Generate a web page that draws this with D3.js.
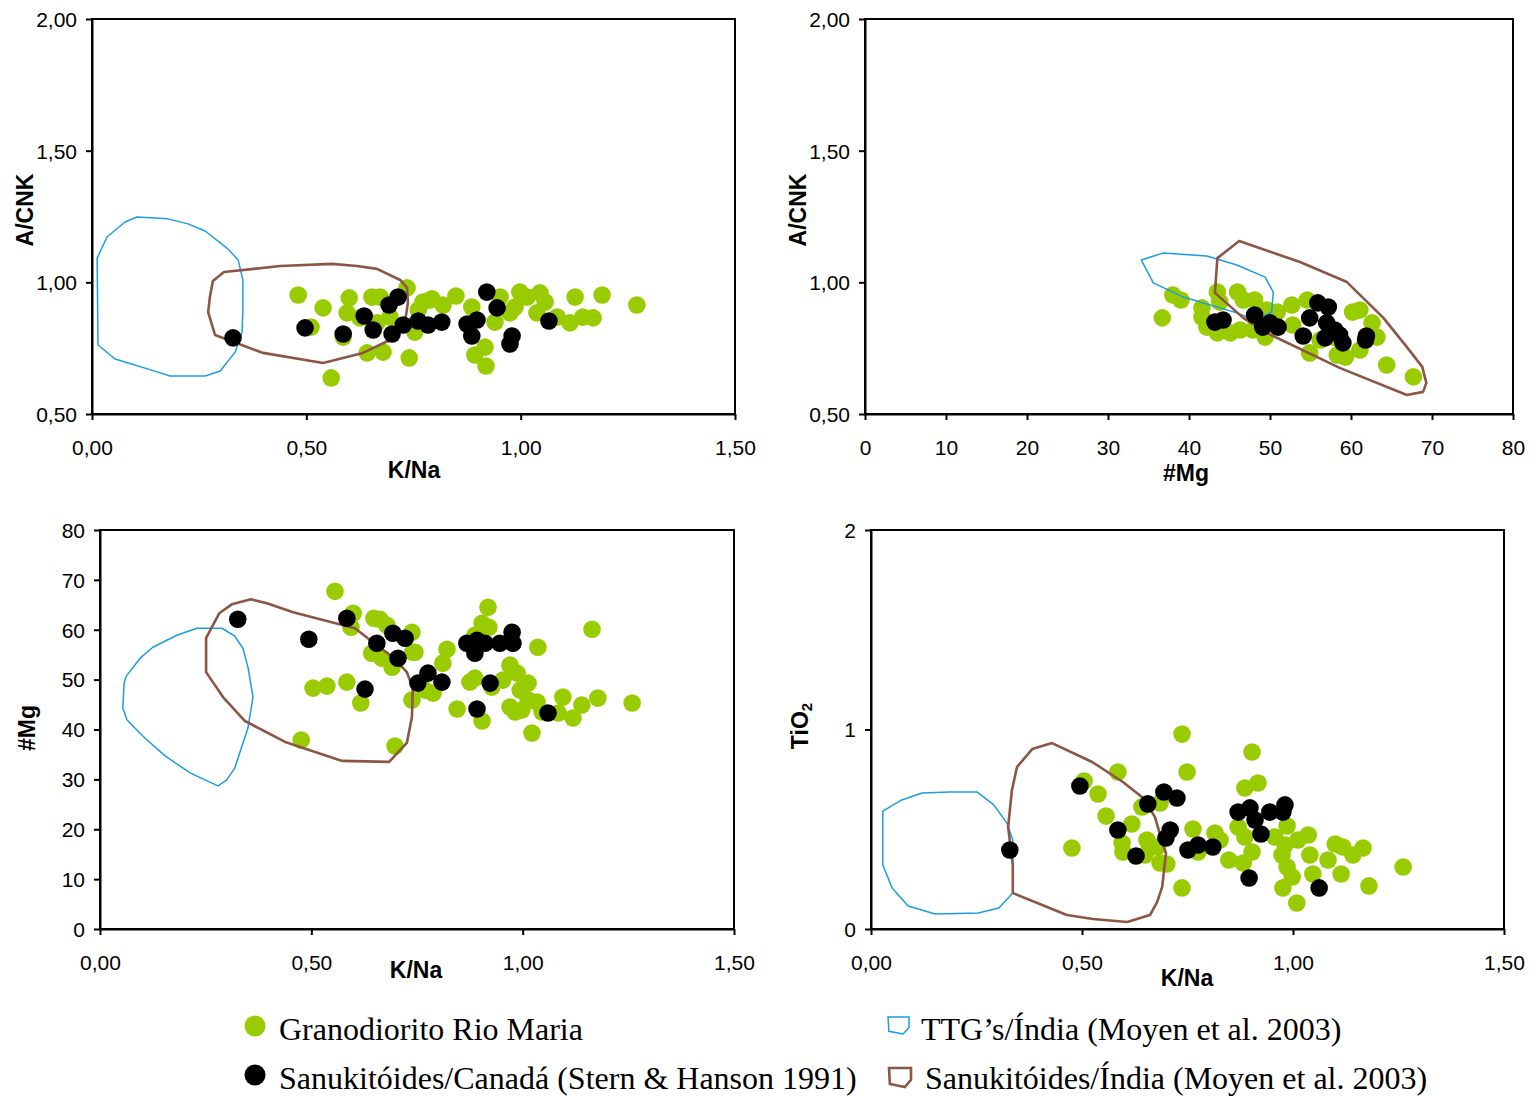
<!DOCTYPE html>
<html>
<head>
<meta charset="utf-8">
<script src="https://cdn.jsdelivr.net/npm/d3@7/dist/d3.min.js"></script>
<style>
  html, body { margin: 0; padding: 0; background: #fff; }
  svg { display: block; }
  .tick text { font-family: Arial, "Liberation Sans", sans-serif; font-size: 21px; fill: #000; }
  .axis-title { font-family: Arial, "Liberation Sans", sans-serif; font-size: 23px; font-weight: bold; fill: #000; }
  .legend-text { font-family: "Times New Roman", "Liberation Serif", serif; font-size: 32px; fill: #000; }
</style>
</head>
<body>
<svg id="chart" width="1532" height="1097"></svg>
<script>
// ---- Series: A/CNK vs K/Na ----
const acnkKnaGranodiorite = [
  [0.481,0.952],[0.539,0.903],[0.511,0.830],[0.600,0.941],[0.595,0.884],[0.586,0.792],[0.625,0.865],
  [0.653,0.944],[0.672,0.944],[0.665,0.846],[0.695,0.868],[0.735,0.979],[0.753,0.811],[0.642,0.732],
  [0.679,0.735],[0.740,0.713],[0.558,0.637],[0.772,0.925],[0.788,0.933],[0.761,0.895],[0.849,0.948],
  [0.793,0.937],[0.819,0.914],[0.886,0.906],[0.893,0.724],[0.917,0.754],[0.919,0.682],[0.940,0.849],
  [0.952,0.944],[0.975,0.884],[0.998,0.963],[1.015,0.944],[1.045,0.960],[1.057,0.925],[1.038,0.884],
  [1.085,0.868],[1.127,0.944],[1.115,0.846],[1.145,0.868],[1.169,0.865],[1.190,0.952],[1.271,0.914],
  [0.987,0.906]
];
const acnkKnaSanukitoidCanada = [
  [0.329,0.789],[0.497,0.827],[0.586,0.804],[0.635,0.872],[0.656,0.819],[0.693,0.914],[0.714,0.944],
  [0.700,0.804],[0.726,0.838],[0.761,0.853],[0.784,0.838],[0.816,0.849],[0.875,0.842],[0.886,0.796],
  [0.898,0.857],[0.921,0.963],[0.945,0.903],[0.975,0.766],[0.980,0.796],[1.066,0.853]
];
const acnkKnaTtgIndia = [
  [0.012,1.092],[0.035,1.172],[0.077,1.229],[0.105,1.248],[0.177,1.241],[0.224,1.222],[0.264,1.195],
  [0.317,1.127],[0.341,1.085],[0.352,1.009],[0.352,0.895],[0.350,0.811],[0.334,0.735],[0.299,0.663],
  [0.264,0.644],[0.182,0.644],[0.152,0.660],[0.054,0.709],[0.014,0.762]
];
const acnkKnaSanukitoidIndia = [
  [0.282,1.005],[0.308,1.039],[0.439,1.062],[0.560,1.070],[0.618,1.062],[0.665,1.051],[0.719,1.009],
  [0.735,0.979],[0.737,0.922],[0.730,0.849],[0.695,0.781],[0.632,0.732],[0.539,0.694],[0.399,0.732],
  [0.287,0.800],[0.271,0.887],[0.275,0.944]
];

// ---- Series: A/CNK vs #Mg ----
const acnkMgGranodiorite = [
  [36.7,0.865],[38.0,0.952],[39.0,0.933],[41.6,0.868],[43.5,0.963],[43.8,0.925],[46.0,0.963],
  [46.7,0.933],[48.1,0.933],[43.5,0.808],[45.1,0.808],[46.3,0.819],[49.4,0.792],[49.6,0.895],
  [50.9,0.887],[52.7,0.914],[54.6,0.933],[52.8,0.838],[54.9,0.732],[58.3,0.724],[59.3,0.716],
  [60.2,0.887],[61.1,0.895],[62.6,0.846],[63.2,0.792],[61.1,0.743],[64.4,0.686],[67.7,0.641],
  [41.6,0.903],[42.2,0.830],[47.9,0.819],[56.2,0.781],[57.8,0.792]
];
const acnkMgSanukitoidCanada = [
  [43.2,0.849],[44.2,0.857],[48.1,0.876],[49.1,0.830],[50.0,0.846],[51.0,0.830],[54.1,0.796],
  [54.9,0.865],[55.9,0.922],[57.2,0.906],[57.0,0.846],[58.0,0.819],[56.8,0.789],[59.0,0.770],
  [58.6,0.800],[61.9,0.796],[61.8,0.781]
];
const acnkMgTtgIndia = [
  [34.1,1.085],[36.8,1.111],[42.2,1.100],[45.9,1.066],[49.4,1.020],[50.4,0.963],[50.2,0.887],
  [48.1,0.857],[45.9,0.884],[39.3,0.944],[35.6,0.998]
];
const acnkMgSanukitoidIndia = [
  [43.5,1.092],[46.2,1.157],[53.7,1.077],[59.5,1.001],[64.0,0.865],[66.9,0.754],[68.8,0.679],
  [69.3,0.618],[68.9,0.584],[66.9,0.572],[58.6,0.675],[49.6,0.808],[46.7,0.865],[43.2,0.960]
];

// ---- Series: #Mg vs K/Na ----
const mgKnaGranodiorite = [
  [0.556,67.7],[0.599,63.3],[0.594,60.5],[0.648,62.3],[0.662,62.1],[0.679,60.9],[0.738,59.5],
  [0.643,55.3],[0.667,54.3],[0.691,52.5],[0.740,55.5],[0.738,45.9],[0.504,48.3],[0.537,48.7],
  [0.584,49.5],[0.617,45.3],[0.476,37.9],[0.698,36.7],[0.918,64.5],[0.904,61.3],[0.920,60.5],
  [0.887,58.9],[0.745,55.5],[0.821,56.1],[0.811,53.3],[0.788,47.3],[0.769,47.9],[0.875,49.5],
  [0.887,50.3],[0.927,48.5],[0.970,52.9],[0.987,51.3],[1.013,49.3],[0.953,49.9],[0.994,47.9],
  [0.970,44.5],[0.982,43.5],[0.998,43.9],[1.034,45.5],[1.046,43.5],[1.095,46.5],[1.084,43.3],
  [1.119,42.3],[1.140,44.9],[1.178,46.3],[1.036,56.5],[1.164,60.1],[1.259,45.3],[1.022,39.3],
  [0.845,44.1],[0.904,41.7],[1.013,45.9]
];
const mgKnaSanukitoidCanada = [
  [0.326,62.1],[0.494,58.1],[0.584,62.3],[0.627,48.1],[0.655,57.3],[0.693,59.3],[0.722,58.3],
  [0.705,54.3],[0.752,49.3],[0.776,51.3],[0.809,49.5],[0.868,57.3],[0.892,57.9],[0.887,55.3],
  [0.911,57.3],[0.946,57.3],[0.975,59.5],[0.977,57.3],[0.923,49.3],[0.892,44.1],[1.060,43.3]
];
const mgKnaTtgIndia = [
  [0.229,60.3],[0.289,60.3],[0.319,58.7],[0.338,56.3],[0.350,52.5],[0.362,46.5],[0.350,40.3],
  [0.319,32.3],[0.300,29.9],[0.279,28.7],[0.213,31.3],[0.154,34.7],[0.106,38.3],[0.064,41.9],
  [0.054,44.3],[0.057,49.3],[0.062,50.7],[0.095,54.3],[0.125,56.5],[0.182,58.9]
];
const mgKnaSanukitoidIndia = [
  [0.251,58.3],[0.282,63.3],[0.312,65.1],[0.357,66.1],[0.395,65.3],[0.457,63.5],[0.603,60.3],
  [0.646,57.5],[0.693,54.5],[0.726,51.5],[0.740,48.3],[0.738,42.5],[0.726,37.3],[0.684,33.5],
  [0.573,33.7],[0.438,37.5],[0.343,41.7],[0.291,46.5],[0.251,51.5]
];

// ---- Series: TiO2 vs K/Na ----
const tiKnaGranodiorite = [
  [0.505,0.742],[0.538,0.677],[0.557,0.566],[0.585,0.787],[0.618,0.526],[0.642,0.612],[0.595,0.431],
  [0.597,0.386],[0.654,0.446],[0.661,0.411],[0.649,0.371],[0.476,0.406],[0.685,0.331],[0.737,0.977],
  [0.903,0.887],[0.749,0.787],[0.886,0.707],[0.917,0.732],[0.685,0.632],[0.763,0.501],[0.815,0.481],
  [0.827,0.446],[0.701,0.326],[0.737,0.206],[0.848,0.346],[0.882,0.331],[0.870,0.511],[0.886,0.461],
  [0.903,0.386],[0.986,0.516],[0.957,0.461],[0.981,0.421],[1.012,0.446],[1.036,0.471],[1.040,0.371],
  [0.974,0.371],[0.986,0.311],[0.998,0.261],[0.976,0.206],[1.009,0.130],[1.047,0.276],[1.083,0.346],
  [1.100,0.426],[1.118,0.411],[1.142,0.371],[1.166,0.406],[1.114,0.276],[1.180,0.216],[1.261,0.311],
  [0.775,0.386],[0.678,0.411]
];
const tiKnaSanukitoidCanada = [
  [0.329,0.396],[0.495,0.717],[0.585,0.496],[0.628,0.366],[0.656,0.627],[0.694,0.687],[0.725,0.657],
  [0.709,0.496],[0.699,0.456],[0.751,0.396],[0.775,0.421],[0.810,0.411],[0.870,0.586],[0.898,0.607],
  [0.910,0.546],[0.945,0.586],[0.981,0.622],[0.976,0.586],[0.924,0.476],[0.896,0.256],[1.062,0.206]
];
const tiKnaTtgIndia = [
  [0.028,0.591],[0.073,0.647],[0.121,0.682],[0.187,0.687],[0.251,0.687],[0.291,0.622],[0.322,0.531],
  [0.336,0.446],[0.336,0.180],[0.303,0.105],[0.254,0.080],[0.152,0.075],[0.088,0.115],[0.050,0.206],
  [0.028,0.321]
];
const tiKnaSanukitoidIndia = [
  [0.336,0.180],[0.336,0.321],[0.325,0.511],[0.334,0.697],[0.346,0.812],[0.382,0.902],[0.429,0.932],
  [0.524,0.837],[0.597,0.737],[0.645,0.657],[0.673,0.561],[0.692,0.421],[0.699,0.381],[0.690,0.211],
  [0.678,0.135],[0.661,0.070],[0.607,0.035],[0.526,0.050],[0.464,0.070]
];

// ---- Axis ticks ----
const knaTicks = [0, 0.5, 1.0, 1.5];
const acnkTicks = [0.5, 1.0, 1.5, 2.0];
const mgTicks = [0, 10, 20, 30, 40, 50, 60, 70, 80];
const tiTicks = [0, 1, 2];

// ---- Legend ----
const legendLabels = [
  "Granodiorito Rio Maria",
  "Sanukitóides/Canadá (Stern & Hanson 1991)",
  "TTG’s/Índia (Moyen et al. 2003)",
  "Sanukitóides/Índia (Moyen et al. 2003)"
];

// ---- Styling ----
const GREEN = "#99cc00";
const BLACK = "#000000";
const BLUE = "#1c9de2";
const BROWN = "#8c5646";
const R = 8.8;

const locale = d3.formatLocale({ decimal: ",", thousands: ".", grouping: [3], currency: ["", ""] });
const fmt2 = locale.format(".2f");
const fmt0 = locale.format("d");

const svg = d3.select("#chart");

function drawPanel(cfg) {
  const x = d3.scaleLinear().domain(cfg.xDomain).range([cfg.left, cfg.right]);
  const y = d3.scaleLinear().domain(cfg.yDomain).range([cfg.bottom, cfg.top]);
  const g = svg.append("g");

  // plot area frame
  g.append("rect")
    .attr("x", cfg.left).attr("y", cfg.top)
    .attr("width", cfg.right - cfg.left).attr("height", cfg.bottom - cfg.top)
    .attr("fill", "#fff").attr("stroke", "#000").attr("stroke-width", 2);

  const clipId = "clip" + cfg.id;
  g.append("clipPath").attr("id", clipId).append("rect")
    .attr("x", cfg.left).attr("y", cfg.top)
    .attr("width", cfg.right - cfg.left).attr("height", cfg.bottom - cfg.top);

  const plot = g.append("g").attr("clip-path", `url(#${clipId})`);

  plot.append("g").selectAll("circle").data(cfg.green).join("circle")
    .attr("cx", d => x(d[0])).attr("cy", d => y(d[1])).attr("r", R).attr("fill", GREEN);

  const line = d3.line().x(d => x(d[0])).y(d => y(d[1])).curve(d3.curveLinearClosed);
  plot.append("path").datum(cfg.ttg).attr("d", line)
    .attr("fill", "none").attr("stroke", BLUE).attr("stroke-width", 1.5).attr("stroke-linejoin", "round");
  plot.append("path").datum(cfg.sanIndia).attr("d", line)
    .attr("fill", "none").attr("stroke", BROWN).attr("stroke-width", 2.6).attr("stroke-linejoin", "round");

  plot.append("g").selectAll("circle").data(cfg.black).join("circle")
    .attr("cx", d => x(d[0])).attr("cy", d => y(d[1])).attr("r", R).attr("fill", BLACK);

  // axes
  const xAxis = d3.axisBottom(x).tickValues(cfg.xTicks).tickFormat(cfg.xFmt)
    .tickSizeInner(6).tickSizeOuter(0);
  const xg = g.append("g").attr("transform", `translate(0,${cfg.bottom})`).call(xAxis);
  xg.select(".domain").attr("stroke-width", 2);
  xg.selectAll(".tick line").attr("stroke-width", 2);
  xg.selectAll(".tick text").attr("dy", null).attr("y", 41);

  const yAxis = d3.axisLeft(y).tickValues(cfg.yTicks).tickFormat(cfg.yFmt)
    .tickSizeInner(6).tickSizeOuter(0).tickPadding(9);
  const yg = g.append("g").attr("transform", `translate(${cfg.left},0)`).call(yAxis);
  yg.select(".domain").attr("stroke-width", 2);
  yg.selectAll(".tick line").attr("stroke-width", 2);
  yg.selectAll(".tick text").attr("dy", "0.35em");
  svg.selectAll(".domain, .tick line").attr("stroke", "#000");

  // axis titles
  g.append("text").attr("class", "axis-title")
    .attr("x", cfg.xTitle[0]).attr("y", cfg.xTitle[1])
    .attr("text-anchor", "middle").text(cfg.xLabel);
  const yt = g.append("text").attr("class", "axis-title")
    .attr("transform", `translate(${cfg.yTitle[0]},${cfg.yTitle[1]}) rotate(-90)`)
    .attr("text-anchor", "middle");
  if (cfg.yLabelSub) {
    yt.append("tspan").text(cfg.yLabel);
    yt.append("tspan").attr("font-size", "15px").attr("dy", "4").text(cfg.yLabelSub);
  } else {
    yt.text(cfg.yLabel);
  }
}

drawPanel({
  id: 1, left: 92, right: 735, top: 19, bottom: 414,
  xDomain: [0, 1.5], yDomain: [0.5, 2.0],
  xTicks: knaTicks, yTicks: acnkTicks, xFmt: fmt2, yFmt: fmt2,
  green: acnkKnaGranodiorite, black: acnkKnaSanukitoidCanada,
  ttg: acnkKnaTtgIndia, sanIndia: acnkKnaSanukitoidIndia,
  xLabel: "K/Na", xTitle: [414, 478], yLabel: "A/CNK", yTitle: [33, 210]
});

drawPanel({
  id: 2, left: 865, right: 1513, top: 19, bottom: 414,
  xDomain: [0, 80], yDomain: [0.5, 2.0],
  xTicks: mgTicks, yTicks: acnkTicks, xFmt: fmt0, yFmt: fmt2,
  green: acnkMgGranodiorite, black: acnkMgSanukitoidCanada,
  ttg: acnkMgTtgIndia, sanIndia: acnkMgSanukitoidIndia,
  xLabel: "#Mg", xTitle: [1186, 481], yLabel: "A/CNK", yTitle: [806, 210]
});

drawPanel({
  id: 3, left: 100, right: 734, top: 530, bottom: 929,
  xDomain: [0, 1.5], yDomain: [0, 80],
  xTicks: knaTicks, yTicks: mgTicks, xFmt: fmt2, yFmt: fmt0,
  green: mgKnaGranodiorite, black: mgKnaSanukitoidCanada,
  ttg: mgKnaTtgIndia, sanIndia: mgKnaSanukitoidIndia,
  xLabel: "K/Na", xTitle: [416, 978], yLabel: "#Mg", yTitle: [35, 728]
});

drawPanel({
  id: 4, left: 871, right: 1504, top: 530, bottom: 929,
  xDomain: [0, 1.5], yDomain: [0, 2],
  xTicks: knaTicks, yTicks: tiTicks, xFmt: fmt2, yFmt: fmt0,
  green: tiKnaGranodiorite, black: tiKnaSanukitoidCanada,
  ttg: tiKnaTtgIndia, sanIndia: tiKnaSanukitoidIndia,
  xLabel: "K/Na", xTitle: [1187, 986], yLabel: "TiO", yLabelSub: "2", yTitle: [808, 726]
});

// ---- Legend ----
const legend = svg.append("g");
const shield = [[0, 0], [1, 0], [1, 0.62], [0.72, 1], [0.04, 0.84]];
const legendItems = [
  { kind: "dot", color: GREEN, mx: 255, my: 1026, tx: 279, ty: 1040 },
  { kind: "dot", color: BLACK, mx: 255, my: 1075, tx: 279, ty: 1089 },
  { kind: "shape", color: BLUE, width: 1.5, mx: 888, my: 1017, w: 21, h: 17, tx: 921, ty: 1040 },
  { kind: "shape", color: BROWN, width: 2.6, mx: 889, my: 1068, w: 22, h: 19, tx: 925, ty: 1089 }
];
legendItems.forEach((it, i) => {
  if (it.kind === "dot") {
    legend.append("circle").attr("cx", it.mx).attr("cy", it.my).attr("r", 10.5).attr("fill", it.color);
  } else {
    legend.append("path")
      .attr("d", d3.line().curve(d3.curveLinearClosed)(shield.map(p => [it.mx + p[0] * it.w, it.my + p[1] * it.h])))
      .attr("fill", "none").attr("stroke", it.color).attr("stroke-width", it.width);
  }
  legend.append("text").attr("class", "legend-text").attr("x", it.tx).attr("y", it.ty).text(legendLabels[i]);
});
</script>
</body>
</html>
